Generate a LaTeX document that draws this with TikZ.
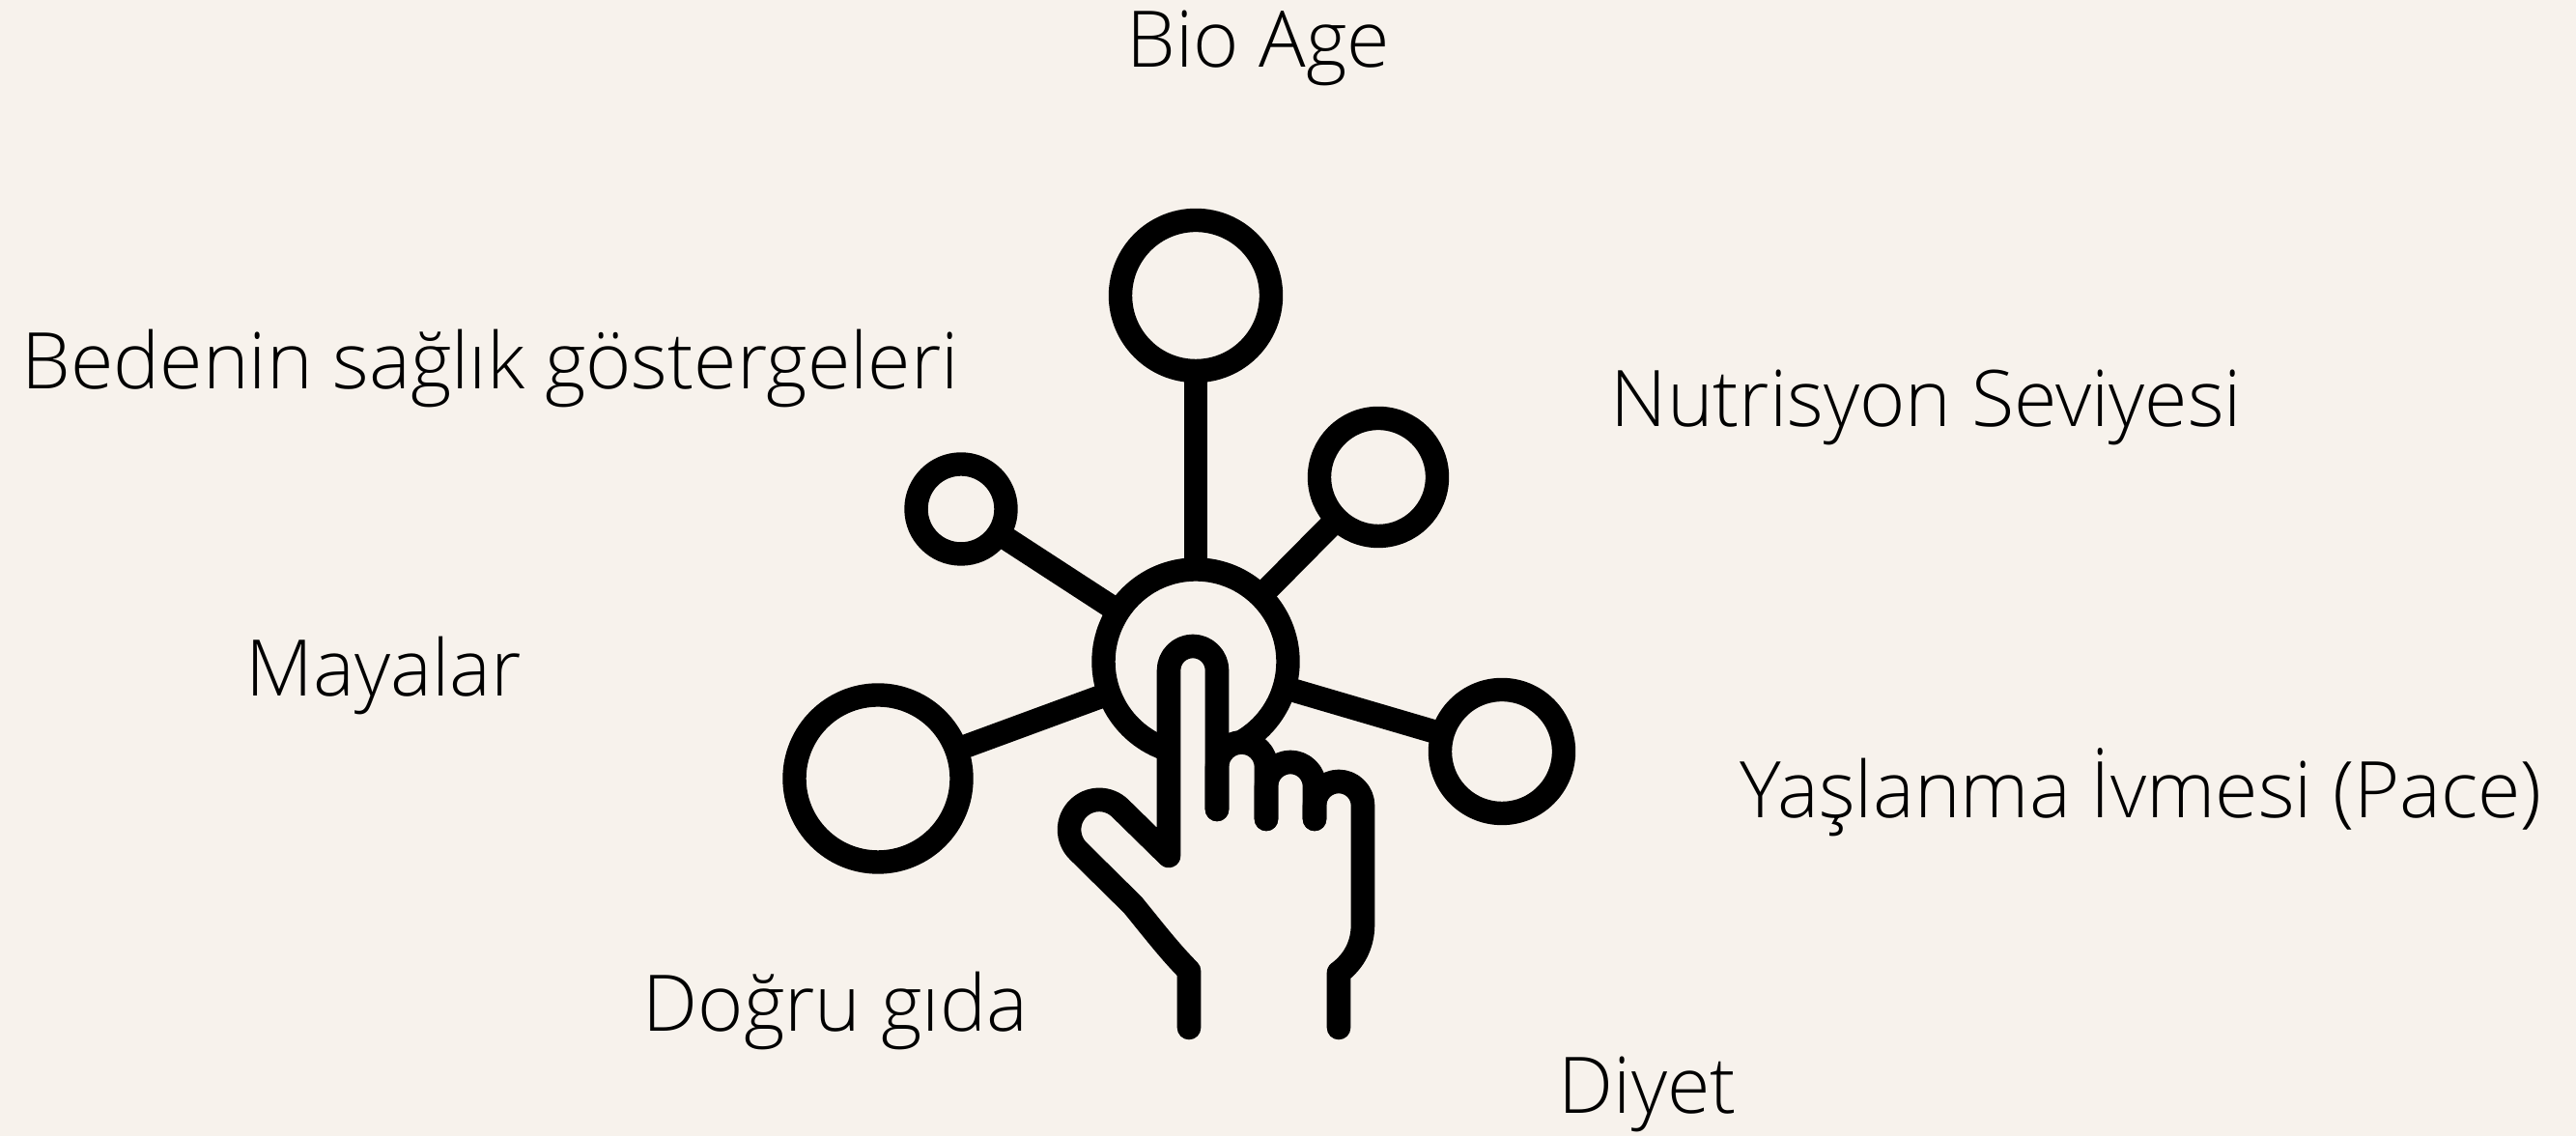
\documentclass[tikz,border=0pt]{standalone}
\usepackage{fontspec}
\setmainfont{Open Sans Light}
\usetikzlibrary{arrows.meta,calc}
\definecolor{paper@}{HTML}{F7F2EC}

\begin{document}
\begin{tikzpicture}[line cap=round,line join=round,
    ring@/.style={draw,circle,line width=.244cm,inner sep=0pt,outer sep=0pt},
    spoke@/.style={line width=.244cm,line cap=butt},
    hand@/.style={line width=.246cm},
    word@/.style={anchor=base west,inner sep=0pt,font=\fontsize{23}{27}\selectfont}]
    \fill[paper@] (0,0) rectangle (26.67,11.76);
    \useasboundingbox (0,0) rectangle (26.67,11.76);

    % The hub and the rings round it.
    \node[ring@,minimum size=1.91cm] (hub) at (12.38,4.91) {};
    \node[ring@,minimum size=1.56cm] (top) at (12.38,8.70) {};
    \node[ring@,minimum size=1.22cm] (upright) at (14.27,6.82) {};
    \node[ring@,minimum size=.93cm] (upleft) at (9.95,6.49) {};
    \node[ring@,minimum size=1.73cm] (lowleft) at (9.09,3.70) {};
    \node[ring@,minimum size=1.28cm] (lowright) at (15.55,3.98) {};
    \foreach \ringname in {top,upright,upleft,lowleft,lowright}
      \draw[spoke@] (hub) -- (\ringname);

    % The hand, filled first so that it hides the hub.
    \fill[paper@] (12.31,1.12) -- (12.31,1.71) -- (11.73,2.39) -- (11.16,2.96)
      arc[start angle=225,end angle=45,radius=.31] -- (12.10,2.90) -- (12.10,4.82)
      arc[start angle=180,end angle=0,radius=.25] -- (12.60,3.82)
      arc[start angle=180,end angle=0,radius=.255] -- (13.11,3.62)
      arc[start angle=180,end angle=0,radius=.25] -- (13.61,3.42)
      arc[start angle=180,end angle=0,radius=.25] -- (14.11,2.19)
      .. controls (14.11,1.98) and (14.02,1.81) .. (13.86,1.69) -- (13.86,1.12) -- cycle;
    \draw[hand@] (12.60,3.38) -- (12.60,4.82)
      arc[start angle=0,end angle=180,radius=.25] -- (12.10,2.90) -- (11.60,3.39)
      arc[start angle=45,end angle=225,radius=.31] -- (11.73,2.39)
      .. controls (11.95,2.12) and (12.12,1.90) .. (12.31,1.71) -- (12.31,1.12);
    \draw[hand@] (12.60,3.38) -- (12.60,3.82)
      arc[start angle=180,end angle=0,radius=.255] -- (13.11,3.28);
    \draw[hand@] (13.11,3.28) -- (13.11,3.62)
      arc[start angle=180,end angle=0,radius=.25] -- (13.61,3.28);
    \draw[hand@] (13.61,3.28) -- (13.61,3.42)
      arc[start angle=180,end angle=0,radius=.25] -- (14.11,2.19)
      .. controls (14.11,1.98) and (14.02,1.81) .. (13.86,1.69) -- (13.86,1.12);

    % The words.
    \node[word@] (bioage) at (11.66,11.06) {Bio Age};
    \node[word@] (bedenin) at (.22,7.73) {Bedenin sağlık göstergeleri};
    \node[word@] (nutrisyon) at (16.67,7.34) {Nutrisyon Seviyesi};
    \node[word@] (mayalar) at (2.54,4.55) {Mayalar};
    \node[word@] (yaslanma) at (18.01,3.29) {Yaşlanma İvmesi (Pace)};
    \node[word@] (dogru) at (6.65,1.08) {Doğru gıda};
    \node[word@] (diyet) at (16.13,.23) {Diyet};
  \end{tikzpicture}
\end{document}
